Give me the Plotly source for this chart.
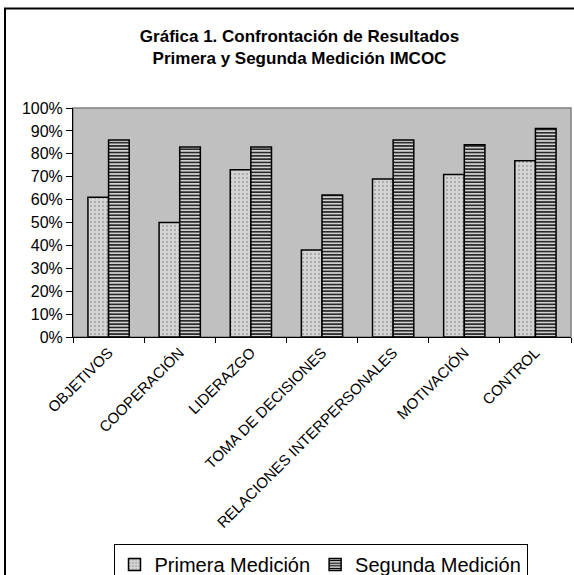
import plotly.graph_objects as go

# Dimensiones evaluadas en el instrumento IMCOC
categorias = [
    "OBJETIVOS",
    "COOPERACIÓN",
    "LIDERAZGO",
    "TOMA DE DECISIONES",
    "RELACIONES INTERPERSONALES",
    "MOTIVACIÓN",
    "CONTROL",
]

# Porcentaje obtenido en cada medición
primera_medicion = [61, 50, 73, 38, 69, 71, 77]
segunda_medicion = [86, 83, 83, 62, 86, 84, 91]

# Marcas del eje vertical
ticks_y = [0, 10, 20, 30, 40, 50, 60, 70, 80, 90, 100]
etiquetas_y = [f"{v}%" for v in ticks_y]

FONT = "Arial, Liberation Sans, Helvetica, sans-serif"

W, H = 574, 575
ML, MR, MT, MB = 73, 3, 108, 238
plot_w = W - ML - MR
plot_h = H - MT - MB


def px_x(p):
    """Pixel column -> paper x (relative to plot area)."""
    return (p - ML) / plot_w


def px_y(p):
    """Pixel row -> paper y (relative to plot area)."""
    return (H - MB - p) / plot_h


fig = go.Figure()

fig.add_trace(go.Bar(
    name="Primera Medición",
    x=categorias,
    y=primera_medicion,
    marker=dict(
        color="#d4d4d4",
        line=dict(color="#000000", width=1.5),
        pattern=dict(shape=".", size=4, solidity=0.12,
                     fgcolor="#777777", bgcolor="#d4d4d4", fillmode="replace"),
    ),
))

fig.add_trace(go.Bar(
    name="Segunda Medición",
    x=categorias,
    y=segunda_medicion,
    marker=dict(
        color="#d0d0d0",
        line=dict(color="#000000", width=1.5),
        pattern=dict(shape="-", size=3.3, solidity=0.4,
                     fgcolor="#000000", bgcolor="#d0d0d0", fillmode="replace"),
    ),
))

# Chart frame and plot-area border
fig.add_shape(type="rect", xref="paper", yref="paper",
              x0=px_x(5), x1=px_x(620), y0=px_y(8.5), y1=px_y(640),
              line=dict(color="#000000", width=2), fillcolor="rgba(0,0,0,0)",
              layer="below")
fig.add_shape(type="rect", xref="paper", yref="paper",
              x0=0, x1=1, y0=0, y1=1,
              line=dict(color="#808080", width=1.5), fillcolor="rgba(0,0,0,0)",
              layer="below")

fig.update_layout(
    width=W,
    height=H,
    margin=dict(l=ML, r=MR, t=MT, b=MB, autoexpand=False),
    paper_bgcolor="#ffffff",
    plot_bgcolor="#c0c0c0",
    barmode="group",
    bargap=0.42,
    bargroupgap=0,
    font=dict(family=FONT, color="#000000"),
    title=dict(
        text="<b>Gráfica 1. Confrontación de Resultados<br>Primera y Segunda Medición IMCOC</b>",
        font=dict(family=FONT, size=17, color="#000000"),
        x=299.5 / W, xanchor="center", xref="container",
        y=1 - 42 / H, yanchor="top", yref="container",
    ),
    showlegend=True,
    legend=dict(
        orientation="h",
        x=px_x(320.5), xanchor="center",
        y=px_y(544), yanchor="top",
        bordercolor="#000000", borderwidth=1,
        bgcolor="#ffffff",
        font=dict(family=FONT, size=20, color="#000000"),
        itemwidth=30,
        traceorder="normal",
        tracegroupgap=0,
    ),
    xaxis=dict(
        showline=True, linecolor="#000000", linewidth=1,
        ticks="outside", tickson="boundaries", ticklen=5, tickcolor="#000000",
        tickangle=-45,
        tickfont=dict(family=FONT, size=15, color="#000000"),
        showgrid=False,
    ),
    yaxis=dict(
        range=[0, 100],
        tickvals=ticks_y, ticktext=etiquetas_y,
        showline=True, linecolor="#000000", linewidth=1,
        ticks="outside", ticklen=6, tickcolor="#000000",
        tickfont=dict(family=FONT, size=16, color="#000000"),
        showgrid=False, zeroline=False,
    ),
)

fig.write_html("out.html")
